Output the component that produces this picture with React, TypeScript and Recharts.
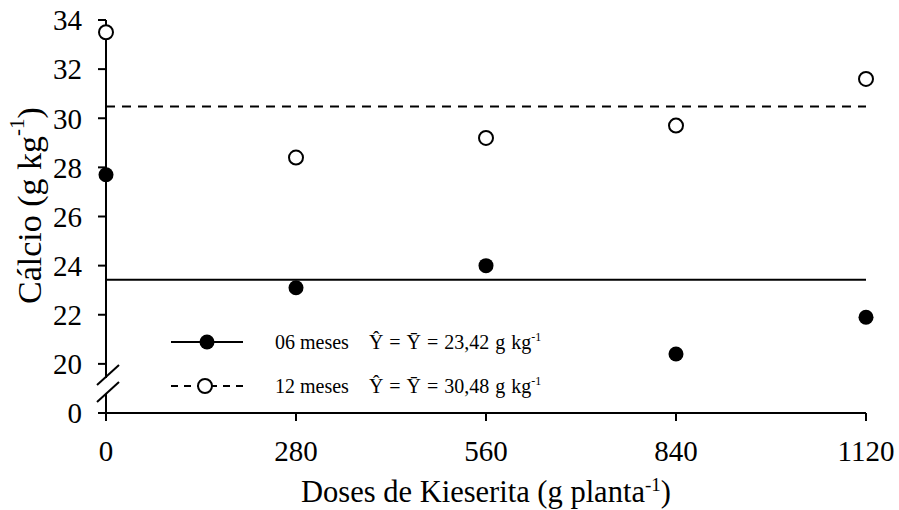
import { ScatterChart, Scatter, XAxis, YAxis, ReferenceLine, ReferenceDot, Legend } from 'recharts'

// doses de kieserita (g planta-1)
const doses = [0, 280, 560, 840, 1120]
// cálcio foliar (g kg-1)
const calcio06 = [27.7, 23.1, 24.0, 20.4, 21.9]
const calcio12 = [33.5, 28.4, 29.2, 29.7, 31.6]
const media06 = 23.42
const media12 = 30.48
const mediaLabels = ['23,42', '30,48']
const seriesNames = ['06 meses', '12 meses']

// eixo com quebra: o "0" fica desenhado na posição 18
const AXIS_ZERO = 18
const yTicks = [18, 20, 22, 24, 26, 28, 30, 32, 34]
const BREAK_AT = 19.1

const FONT = '"Liberation Serif", "Times New Roman", serif'

const data06 = doses.map((d, i) => ({ dose: d, calcio: calcio06[i] }))
const data12 = doses.map((d, i) => ({ dose: d, calcio: calcio12[i] }))

const FilledDot = (p: any) => <circle cx={p.cx} cy={p.cy} r={7.5} fill="#000" />
const OpenDot = (p: any) => <circle cx={p.cx} cy={p.cy} r={7} fill="#fff" stroke="#000" strokeWidth={2} />

// marca de quebra do eixo y (//)
const BreakMark = (p: any) => {
  const { cx, cy } = p
  return (
    <g>
      <rect x={cx - 3} y={cy - 8} width={6} height={16} fill="#fff" />
      <line x1={cx - 9} y1={cy - 1} x2={cx + 13} y2={cy - 21} stroke="#000" strokeWidth={2} />
      <line x1={cx - 9} y1={cy + 16} x2={cx + 13} y2={cy - 4} stroke="#000" strokeWidth={2} />
    </g>
  )
}

const YLabel = (props: any) => {
  const vb = props.viewBox || { x: 0, y: 20, width: 106, height: 393 }
  const cx = vb.x + 29
  const cy = vb.y + vb.height / 2 - 11
  return (
    <text x={cx} y={cy} transform={`rotate(-90 ${cx} ${cy})`} textAnchor="middle" dominantBaseline="central"
      fontFamily={FONT} fontSize={34} fill="#000">
      <tspan>Cálcio (g kg</tspan>
      <tspan dy={-12} fontSize={21}>-1</tspan>
      <tspan dy={12}>)</tspan>
    </text>
  )
}

const XLabel = (props: any) => {
  const vb = props.viewBox || { x: 106, y: 413, width: 760, height: 97 }
  const cx = vb.x + vb.width / 2
  return (
    <text x={cx} y={502} textAnchor="middle" fontFamily={FONT} fontSize={30.5} fill="#000">
      <tspan>Doses de Kieserita (g planta</tspan>
      <tspan dy={-11} fontSize={19}>-1</tspan>
      <tspan dy={11}>)</tspan>
    </text>
  )
}

function LegendBox() {
  const rows = [
    { name: seriesNames[0], media: mediaLabels[0], dash: undefined, filled: true },
    { name: seriesNames[1], media: mediaLabels[1], dash: '7 6', filled: false },
  ]
  return (
    <div style={{ fontFamily: FONT, fontSize: 20, color: '#000' }}>
      {rows.map((r, i) => (
        <div key={i} style={{ display: 'flex', alignItems: 'center', height: 44 }}>
          <svg width={100} height={24} style={{ flex: 'none' }}>
            <line x1={8} y1={12} x2={80} y2={12} stroke="#000" strokeWidth={2} strokeDasharray={r.dash} />
            {r.filled
              ? <circle cx={44} cy={12} r={7.5} fill="#000" />
              : <circle cx={42} cy={12} r={7} fill="#fff" stroke="#000" strokeWidth={2} />}
          </svg>
          <span style={{ marginLeft: 12, whiteSpace: 'nowrap' }}>
            {r.name}
            <span style={{ marginLeft: 20, wordSpacing: 1 }}>Ŷ = Ȳ = {r.media} g kg<sup style={{ fontSize: 12 }}>-1</sup></span>
          </span>
        </div>
      ))}
    </div>
  )
}

export default function App() {
  return (
    <div style={{ position: 'absolute', left: 0, top: 0, width: 899, height: 510, background: '#fff', fontFamily: FONT }}>
      <ScatterChart width={899} height={510} margin={{ top: 20, right: 33, bottom: 0, left: 0 }}>
        <XAxis type="number" dataKey="dose" domain={[0, 1120]} ticks={doses} interval={0}
          height={97} tickSize={8} tickMargin={19}
          axisLine={{ stroke: '#000', strokeWidth: 2 }} tickLine={{ stroke: '#000', strokeWidth: 2 }}
          tick={{ fill: '#000', fontSize: 29, fontFamily: FONT }} label={XLabel} />
        <YAxis type="number" dataKey="calcio" domain={[AXIS_ZERO, 34]} ticks={yTicks} interval={0}
          width={106} tickSize={8} tickMargin={16}
          tickFormatter={(v: number) => (v === AXIS_ZERO ? '0' : String(v))}
          axisLine={{ stroke: '#000', strokeWidth: 2 }} tickLine={{ stroke: '#000', strokeWidth: 2 }}
          tick={{ fill: '#000', fontSize: 29, fontFamily: FONT }} label={YLabel} />
        <ReferenceLine y={media06} stroke="#000" strokeWidth={2} />
        <ReferenceLine y={media12} stroke="#000" strokeWidth={2} strokeDasharray="9 7" />
        <Scatter name={seriesNames[0]} data={data06} shape={FilledDot} isAnimationActive={false} />
        <Scatter name={seriesNames[1]} data={data12} shape={OpenDot} isAnimationActive={false} />
        <ReferenceDot x={0} y={BREAK_AT} ifOverflow="visible" shape={BreakMark} />
        <Legend content={<LegendBox />}
          wrapperStyle={{ position: 'absolute', left: 163, top: 320, width: 420, height: 0, overflow: 'visible', bottom: 'auto' }} />
      </ScatterChart>
    </div>
  )
}
